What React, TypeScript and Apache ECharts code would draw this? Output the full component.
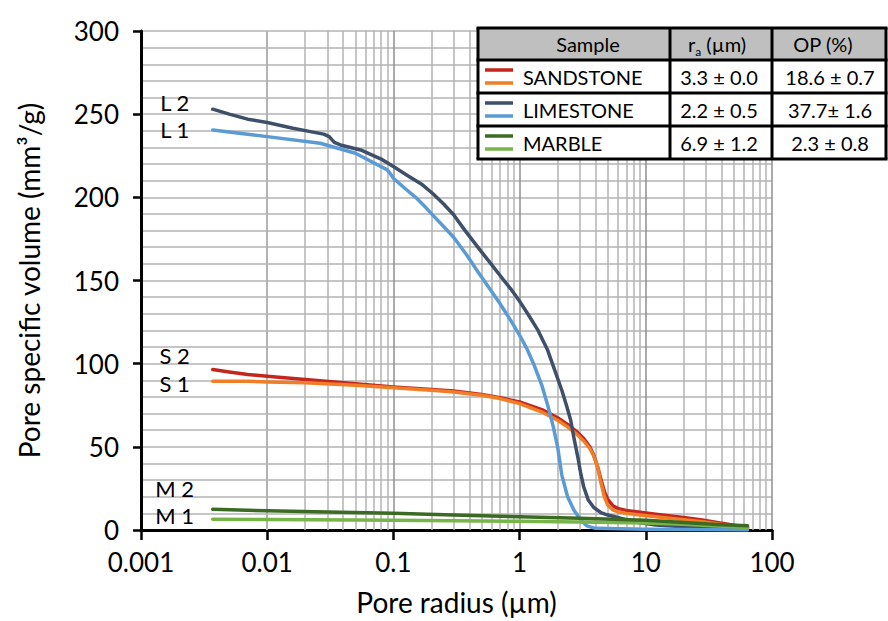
import React, { useEffect, useRef } from "react";
import * as echarts from "echarts";

const FONT = "Lato, 'Open Sans', sans-serif";

// ---- data (pore radius µm, pore specific volume mm³/g) ----
const sandstone2: number[][] = [[0.0037,96.5],[0.005,95],[0.007,93.5],[0.01,92.5],[0.02,90.5],[0.05,88],[0.1,86],[0.2,84.5],[0.3,83.5],[0.5,81.5],[0.7,79.5],[1.0,77],[1.54,72],[2.0,67.5],[2.4,63.5],[2.8,59.5],[3.22,55],[3.6,50],[3.87,45],[4.15,38],[4.39,31],[4.7,23],[4.99,18.5],[5.5,14.5],[6.0,13],[7,11.8],[8.7,10.8],[12,9.5],[19.9,7.5],[28,6],[36.7,4.5],[50,2.8],[64,1.5]];
const sandstone1: number[][] = [[0.0037,89.5],[0.005,89.5],[0.007,89.5],[0.01,89],[0.02,88.5],[0.05,87],[0.1,85.5],[0.2,84],[0.3,83],[0.5,81],[0.7,79],[1.0,76],[1.54,70.5],[2.0,66],[2.4,62],[2.8,58],[3.22,53.5],[3.6,49],[3.87,44.5],[4.15,38],[4.39,29],[4.7,20],[4.99,15],[5.5,12],[6.0,11],[7,10],[8.7,9.2],[12,8],[19.9,6.2],[28,5],[36.7,3.8],[50,2.3],[64,1.2]];
const limestone2: number[][] = [[0.0037,253],[0.005,250],[0.007,247],[0.01,245],[0.016,241.5],[0.022,239.5],[0.028,238],[0.031,236.5],[0.034,233],[0.038,231.5],[0.055,228.5],[0.08,223],[0.1,218.5],[0.13,213],[0.17,207.5],[0.207,202],[0.25,196],[0.3,189.5],[0.37,180],[0.49,168],[0.6,159.5],[0.7,153],[0.85,145],[1.0,137.5],[1.16,130],[1.4,120],[1.67,108],[1.9,96],[2.16,84],[2.35,75],[2.54,66],[2.7,55],[2.89,44],[3.05,34],[3.22,26],[3.5,18],[3.87,13.5],[4.4,10.5],[5,9],[6,7.5],[8,5],[12,3],[25,1.5],[64,0.5]];
const limestone1: number[][] = [[0.0037,240.5],[0.006,238.5],[0.01,236.5],[0.0263,232.5],[0.05,226.5],[0.0895,216.5],[0.095,214],[0.1,211.5],[0.125,205],[0.15,200],[0.18,194],[0.207,189],[0.25,182.5],[0.3,176],[0.38,165.5],[0.47,155],[0.58,145],[0.7,136],[0.85,126],[1.02,116],[1.15,108.5],[1.29,100],[1.5,87],[1.67,75],[1.85,62],[2.0,50],[2.16,33],[2.4,20],[2.69,12],[3.05,6],[3.4,2.5],[4,1],[10,0.5],[64,0]];
const marble2: number[][] = [[0.0037,12.5],[0.01,11.5],[0.03,10.8],[0.1,10],[0.3,9],[1,8],[3,7],[10,5.8],[20,4.5],[40,3.2],[64,2.5]];
const marble1: number[][] = [[0.0037,6.5],[0.01,6.3],[0.1,5.8],[1,5.2],[3,4.8],[10,4.2],[20,3.4],[40,2.3],[64,1.5]];

const curveNames = ["S 2", "S 1", "L 2", "L 1", "M 2", "M 1"];
const curveColors = ["#c3261c", "#f07e26", "#3e4f6a", "#5b9bd5", "#3b6b22", "#78b548"];

// ---- table / legend ----
const sampleNames = ["SANDSTONE", "LIMESTONE", "MARBLE"];
const raValues = ["3.3 ± 0.0", "2.2 ± 0.5", "6.9 ± 1.2"];
const opValues = ["18.6 ± 0.7", "37.7± 1.6", "2.3 ± 0.8"];
const headerLabels = ["Sample", "r", "OP (%)"];

// ---- axes ----
const xTickLabels = ["0.001", "0.01", "0.1", "1", "10", "100"];
const yTickLabels = ["0", "50", "100", "150", "200", "250", "300"];

export default function App() {
  const ref = useRef<HTMLDivElement>(null);

  useEffect(() => {
    if (!ref.current) return;
    const chart = echarts.init(ref.current, null, { renderer: "svg" });

    const seriesData = [sandstone2, sandstone1, limestone2, limestone1, marble2, marble1];
    const labelDy = [-14, 2, -7, 0, -21, -4];
    const drawOrder = [0, 1, 2, 3, 5, 4];

    // minor log grid lines (2..9 per decade)
    const minorX: number[] = [];
    for (let d = -3; d < 2; d++) {
      for (let k = 2; k <= 9; k++) minorX.push(Number((k * Math.pow(10, d)).toPrecision(3)));
    }

    const lineSeries: any[] = drawOrder.map((i) => ({
      type: "line",
      name: curveNames[i],
      z: 5,
      showSymbol: true,
      symbol: "circle",
      symbolSize: 0,
      silent: true,
      emphasis: { disabled: true },
      lineStyle: { color: curveColors[i], width: 3.5, join: "round", cap: "round" },
      itemStyle: { color: curveColors[i] },
      data: seriesData[i].map((p, j) =>
        j === 0
          ? {
              value: p,
              label: {
                show: true,
                formatter: curveNames[i],
                position: [-38, labelDy[i]],
                align: "center",
                verticalAlign: "middle",
                fontFamily: FONT,
                fontSize: 22,
                lineHeight: 20,
                color: "#000",
              },
            }
          : p
      ),
    }));

    const gridHelper = {
      type: "line",
      z: 1,
      silent: true,
      symbol: "none",
      lineStyle: { width: 0 },
      data: [[0.001, 0]],
      markLine: {
        silent: true,
        symbol: "none",
        animation: false,
        label: { show: false },
        lineStyle: { color: "#b3b3b3", width: 1.5, type: "solid" },
        data: minorX.map((v) => ({ xAxis: v })),
      },
    };

    // table graphic
    const tl = 478, tr = 886;
    const rowsY = [28, 60, 93, 126, 159];
    const colsX = [478, 670, 772, 886];
    const g: any[] = [];
    g.push({ type: "rect", shape: { x: tl, y: rowsY[0], width: tr - tl, height: rowsY[1] - rowsY[0] }, style: { fill: "#bfbfbf" }, z: 100 });
    g.push({ type: "rect", shape: { x: tl, y: rowsY[1], width: tr - tl, height: rowsY[4] - rowsY[1] }, style: { fill: "#fff" }, z: 100 });
    rowsY.forEach((y) => g.push({ type: "line", shape: { x1: tl - 1.5, y1: y, x2: tr + 1.5, y2: y }, style: { stroke: "#000", lineWidth: 3 }, z: 102 }));
    colsX.forEach((x) => g.push({ type: "line", shape: { x1: x, y1: rowsY[0], x2: x, y2: rowsY[4] }, style: { stroke: "#000", lineWidth: 3 }, z: 102 }));
    const tStyle = { fontFamily: FONT, fontSize: 20, fill: "#000", verticalAlign: "middle" };
    g.push({ type: "text", x: 588, y: 44, style: { ...tStyle, text: headerLabels[0], align: "center" }, z: 103 });
    g.push({
      type: "text", x: 717, y: 44, z: 103,
      style: {
        text: "{a|" + headerLabels[1] + "}{s|a}{a| (µm)}",
        align: "center", verticalAlign: "middle",
        rich: {
          a: { fontFamily: FONT, fontSize: 20, fill: "#000", lineHeight: 26, verticalAlign: "middle" },
          s: { fontFamily: FONT, fontSize: 12, fill: "#000", lineHeight: 26, verticalAlign: "bottom" },
        },
      },
    });
    g.push({ type: "text", x: 823, y: 44, style: { ...tStyle, text: headerLabels[2], align: "center" }, z: 103 });
    const rowCenters = [77, 110, 143];
    const legendPairs = [[0, 1], [2, 3], [4, 5]];
    sampleNames.forEach((name, r) => {
      const cy = rowCenters[r];
      g.push({ type: "text", x: 523, y: cy, style: { ...tStyle, text: name, align: "left" }, z: 103 });
      g.push({ type: "text", x: 719, y: cy, style: { ...tStyle, text: raValues[r], align: "center" }, z: 103 });
      g.push({ type: "text", x: 830, y: cy, style: { ...tStyle, text: opValues[r], align: "center" }, z: 103 });
      const [a, b] = legendPairs[r];
      const top = rowsY[r + 1];
      g.push({ type: "line", shape: { x1: 485, y1: top + 10, x2: 513, y2: top + 10 }, style: { stroke: curveColors[a], lineWidth: 3.5 }, z: 103 });
      g.push({ type: "line", shape: { x1: 485, y1: top + 23, x2: 513, y2: top + 23 }, style: { stroke: curveColors[b], lineWidth: 3.5 }, z: 103 });
    });

    chart.setOption({
      animation: false,
      backgroundColor: "#fff",
      textStyle: { fontFamily: FONT },
      grid: { left: 141, right: 116, top: 31, bottom: 91, containLabel: false },
      xAxis: {
        type: "log",
        logBase: 10,
        min: 0.001,
        max: 100,
        name: "Pore radius (µm)",
        nameLocation: "middle",
        nameGap: 58,
        nameTextStyle: { fontFamily: FONT, fontSize: 28, color: "#000" },
        axisLine: { show: true, onZero: false, lineStyle: { color: "#000", width: 3 } },
        axisTick: { show: true, inside: false, length: 10, lineStyle: { color: "#000", width: 2.5 } },
        axisLabel: {
          margin: 19,
          fontFamily: FONT,
          fontSize: 26,
          color: "#000",
          formatter: (v: number) => xTickLabels[Math.round(Math.log10(v)) + 3] ?? "",
        },
        splitLine: { show: true, lineStyle: { color: "#8f8f8f", width: 1.5 } },
      },
      yAxis: {
        type: "value",
        min: 0,
        max: 300,
        interval: 50,
        name: "Pore specific volume (mm³/g)",
        nameLocation: "middle",
        nameGap: 98,
        nameTextStyle: { fontFamily: FONT, fontSize: 28, color: "#000" },
        axisLine: { show: true, lineStyle: { color: "#000", width: 3 } },
        axisTick: { show: true, inside: false, length: 8, lineStyle: { color: "#000", width: 2.5 } },
        axisLabel: {
          margin: 22,
          fontFamily: FONT,
          fontSize: 26,
          color: "#000",
          formatter: (v: number) => yTickLabels[Math.round(v / 50)] ?? "",
        },
        splitLine: { show: true, lineStyle: { color: "#b3b3b3", width: 1.5 } },
        minorTick: { show: false, splitNumber: 5 },
        minorSplitLine: { show: true, lineStyle: { color: "#b3b3b3", width: 1.5 } },
      },
      series: [gridHelper, ...lineSeries],
      graphic: g,
    });

    return () => chart.dispose();
  }, []);

  return <div ref={ref} style={{ width: 888, height: 621, position: "absolute", left: 0, top: 0 }} />;
}
